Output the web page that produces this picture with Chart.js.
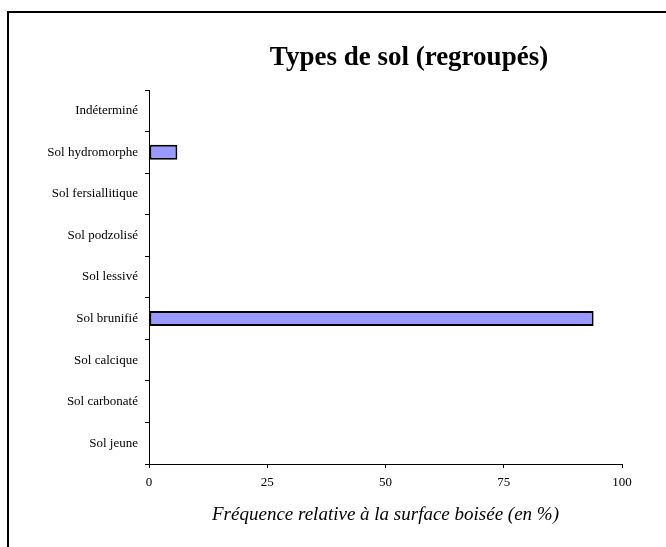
<!DOCTYPE html>
<html>
<head>
<meta charset="utf-8">
<script src="https://cdn.jsdelivr.net/npm/chart.js@4"></script>
<style>
  html, body { margin: 0; padding: 0; background: #fff; }
  canvas { display: block; }
</style>
</head>
<body>
<canvas id="solChart" width="666" height="547"></canvas>
<script>
// --- data ---
const categories = [
  "Indéterminé",
  "Sol hydromorphe",
  "Sol fersiallitique",
  "Sol podzolisé",
  "Sol lessivé",
  "Sol brunifié",
  "Sol calcique",
  "Sol carbonaté",
  "Sol jeune"
];
const frequencies = [0, 6, 0, 0, 0, 94, 0, 0, 0];
const xTicks = [0, 25, 50, 75, 100];

const chartTitle = "Types de sol (regroupés)";
const xTitle = "Fréquence relative à la surface boisée (en %)";

const serif = "'Liberation Serif', 'Times New Roman', serif";

// frame + title drawn on the canvas
const framePlugin = {
  id: "frame",
  afterDraw(chart) {
    const c = chart.ctx;
    c.save();
    c.strokeStyle = "#000";
    c.lineWidth = 2;
    c.beginPath();
    c.moveTo(8, 547);
    c.lineTo(8, 12);
    c.lineTo(666, 12);
    c.stroke();

    c.fillStyle = "#000";
    c.font = "bold 27px " + serif;
    c.textAlign = "center";
    c.textBaseline = "middle";
    c.fillText(chartTitle, 409, 58);
    c.restore();
  }
};

window.addEventListener("DOMContentLoaded", () => {
  const ctx = document.getElementById("solChart").getContext("2d");

  new Chart(ctx, {
    type: "bar",
    data: {
      labels: categories,
      datasets: [{
        data: frequencies,
        backgroundColor: "#9999ff",
        borderColor: "#000",
        borderWidth: 2,
        borderSkipped: false,
        categoryPercentage: 1,
        barPercentage: 0.36
      }]
    },
    options: {
      indexAxis: "y",
      responsive: false,
      animation: false,
      layout: { padding: { left: 0, top: 90, right: 44, bottom: 0 } },
      scales: {
        x: {
          min: 0,
          max: 100,
          afterBuildTicks: (scale) => { scale.ticks = xTicks.map(v => ({ value: v })); },
          afterFit: (scale) => { scale.height = 83; },
          grid: { drawOnChartArea: false, tickLength: 4, color: "#000" },
          border: { color: "#000", width: 1 },
          ticks: { color: "#000", padding: 7, font: { family: serif, size: 13 } },
          title: {
            display: true,
            text: xTitle,
            color: "#000",
            padding: { top: 4, bottom: 21 },
            font: { family: serif, size: 19, style: "italic" }
          }
        },
        y: {
          afterFit: (scale) => { scale.width = 149; },
          grid: { drawOnChartArea: false, offset: true, tickLength: 4, color: "#000" },
          border: { color: "#000", width: 1 },
          ticks: { color: "#000", padding: 7, font: { family: serif, size: 13 } }
        }
      },
      plugins: {
        legend: { display: false },
        tooltip: { enabled: false }
      }
    },
    plugins: [framePlugin]
  });
});
</script>
</body>
</html>
